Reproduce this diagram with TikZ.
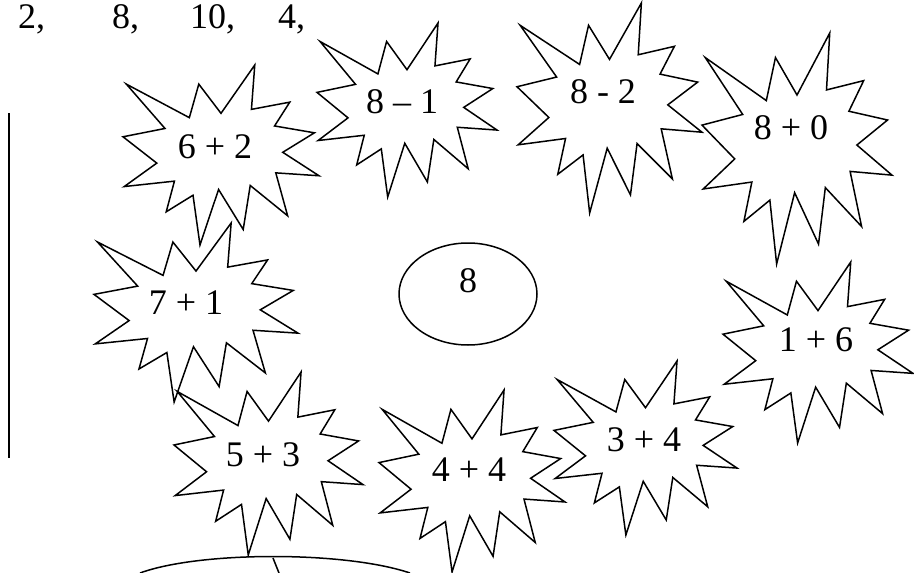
\documentclass[tikz,border=0pt]{standalone}
\usepackage{fontspec}
\setmainfont{Liberation Serif}
\usepackage{tikz}
\usetikzlibrary{shapes.geometric}

\begin{document}
\begin{tikzpicture}[
  x=1pt, y=-1pt,
  burst/.style={draw, line width=1.5pt, line join=miter},
  sum/.style={font=\fontsize{36}{40}\selectfont, inner sep=0pt},
  rule/.style={line width=1.8pt}
]
\useasboundingbox (0,0) rectangle (914,573);
% numbers along the top
\node[sum, anchor=base west] (n2) at (18,28) {2,};
\node[sum, anchor=base west] (n8) at (112,28) {8,};
\node[sum, anchor=base west] (n10) at (190,28) {10,};
\node[sum, anchor=base west] (n4) at (278,28) {4,};
% bursts: name/left/top/width/height/label x/label y/text
\foreach \nm/\bx/\by/\bw/\bh/\lx/\ly/\txt in {
  s62/123/65/196/180/215/147/{6 + 2},
  s81/317/23/180/174/402/102/{8 – 1},
  s82/517/3/185/210/603/92/{8 - 2},
  s80/702/33/190/231/791/128/{8 + 0},
  s71/94/223/204/179/186/303/{7 + 1},
  s16/723/262/190/181/816/340/{1 + 6},
  s53/174/372/189/183/263/455/{5 + 3},
  s44/379/390/186/182/469/470/{4 + 4},
  s34/554/361/183/174/644/440/{3 + 4}}{
  \begin{scope}[shift={(\bx,\by)}, xscale=\bw/100, yscale=\bh/100]
    \draw[burst] (50,26.85) -- (67.23,0) -- (65.53,24.65) -- (85.09,20.63)
      -- (77.32,33.87) -- (97.67,37.67) -- (81.51,48.50) -- (100,61.53)
      -- (77.95,59.92) -- (84.00,83.77) -- (64.91,66.93) -- (61.33,91.38)
      -- (48.76,69.14) -- (39.28,100) -- (35.72,72.35) -- (22.05,81.56)
      -- (26.24,64.52) -- (0.63,67.53) -- (17.23,54.51) -- (0,39.88)
      -- (21.42,35.26) -- (1.71,10.63) -- (33.85,29.26) -- (38.67,10.63)
      -- cycle;
  \end{scope}
  \node[sum] (\nm) at (\lx,\ly) {\txt};
}
% the eight in the middle
\node[draw, ellipse, line width=1.5pt, minimum width=138pt, minimum height=102pt, inner sep=0pt] (hub) at (468,294) {};
\node[sum] (hubnum) at ([yshift=13pt]hub.center) {8};
% left rule and bottom arc
\draw[rule] (9,113) -- (9,458);
\draw[burst] (140,573) .. controls (200,551) and (345,551) .. (410,573);
\draw[burst] (273,558) -- (279,573);
\end{tikzpicture}
\end{document}
